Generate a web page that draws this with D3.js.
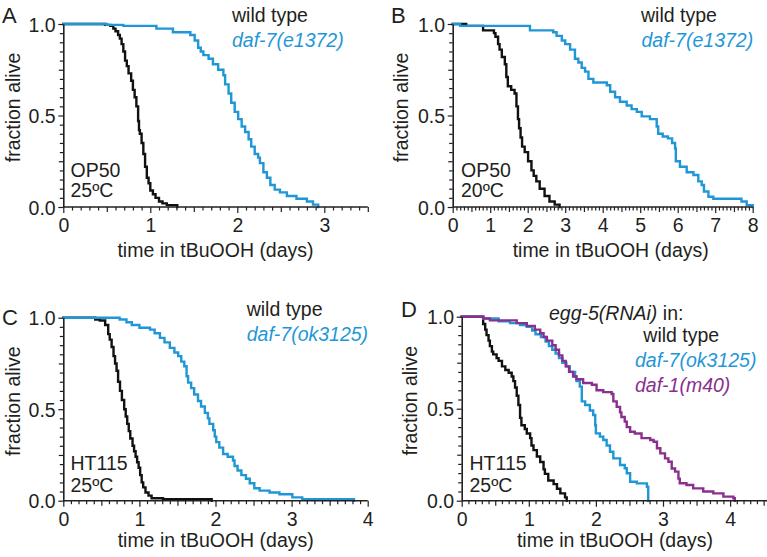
<!DOCTYPE html>
<html><head><meta charset="utf-8">
<script src="https://cdn.jsdelivr.net/npm/d3@7"></script>
<style>body{margin:0;background:#fff}svg{display:block}</style>
</head><body>
<svg id="chart" width="767" height="557"></svg>
<script>
// ---------- DATA (time in days, fraction alive) ----------
const A_wildType = [[0,1],[0.48,0.995],[0.54,0.99],[0.575,0.975],[0.6,0.96],[0.63,0.94],[0.65,0.92],[0.67,0.89],[0.69,0.85],[0.71,0.8],[0.73,0.77],[0.75,0.73],[0.78,0.69],[0.8,0.64],[0.82,0.6],[0.84,0.55],[0.86,0.47],[0.87,0.42],[0.88,0.40],[0.9,0.35],[0.92,0.29],[0.94,0.22],[0.96,0.16],[0.98,0.13],[1.0,0.09],[1.03,0.07],[1.06,0.05],[1.1,0.03],[1.14,0.02],[1.19,0.01],[1.31,0]];
const A_daf7 = [[0,1],[0.5,0.995],[0.69,0.99],[1.07,0.975],[1.26,0.955],[1.46,0.94],[1.51,0.91],[1.55,0.87],[1.58,0.85],[1.61,0.83],[1.67,0.81],[1.72,0.78],[1.78,0.75],[1.84,0.72],[1.86,0.67],[1.9,0.62],[1.93,0.57],[1.97,0.52],[2.01,0.48],[2.05,0.44],[2.09,0.41],[2.13,0.37],[2.16,0.33],[2.2,0.29],[2.24,0.27],[2.26,0.24],[2.3,0.19],[2.34,0.16],[2.38,0.12],[2.43,0.095],[2.49,0.08],[2.57,0.06],[2.68,0.045],[2.8,0.03],[2.87,0.013],[2.93,0]];
const B_wildType = [[0,1],[0.36,0.99],[0.81,0.965],[1.1,0.95],[1.14,0.93],[1.21,0.89],[1.25,0.86],[1.31,0.82],[1.39,0.78],[1.43,0.71],[1.47,0.66],[1.56,0.64],[1.65,0.62],[1.7,0.55],[1.74,0.48],[1.77,0.43],[1.81,0.38],[1.85,0.33],[1.92,0.3],[2.01,0.25],[2.1,0.2],[2.16,0.17],[2.23,0.14],[2.32,0.1],[2.45,0.06],[2.58,0.03],[2.72,0.013],[2.85,0]];
const B_daf7 = [[0,1],[0.2,0.99],[2.06,0.965],[2.68,0.955],[2.77,0.935],[2.91,0.91],[3.0,0.89],[3.13,0.86],[3.26,0.81],[3.35,0.79],[3.44,0.76],[3.53,0.74],[3.62,0.70],[3.75,0.68],[4.11,0.665],[4.2,0.63],[4.33,0.60],[4.46,0.575],[4.64,0.555],[4.77,0.535],[4.91,0.52],[5.04,0.495],[5.26,0.48],[5.44,0.44],[5.48,0.40],[5.6,0.385],[5.74,0.375],[5.85,0.35],[5.93,0.32],[5.95,0.25],[6.06,0.22],[6.24,0.19],[6.42,0.175],[6.55,0.14],[6.64,0.12],[6.7,0.085],[6.82,0.056],[6.95,0.045],[7.7,0.03],[7.84,0.01],[8.0,0]];
const C_wildType = [[0,1],[0.42,0.99],[0.48,0.985],[0.55,0.96],[0.59,0.91],[0.61,0.88],[0.635,0.84],[0.66,0.79],[0.68,0.75],[0.7,0.71],[0.72,0.65],[0.745,0.6],[0.77,0.55],[0.8,0.5],[0.82,0.46],[0.84,0.42],[0.86,0.38],[0.88,0.34],[0.91,0.3],[0.93,0.27],[0.95,0.24],[0.97,0.21],[0.99,0.18],[1.01,0.14],[1.03,0.1],[1.05,0.073],[1.08,0.045],[1.12,0.028],[1.16,0.013],[1.31,0.008],[1.95,0]];
const C_daf7 = [[0,1],[0.74,0.99],[0.83,0.975],[0.9,0.96],[1.0,0.945],[1.14,0.935],[1.2,0.915],[1.27,0.89],[1.33,0.865],[1.4,0.835],[1.46,0.81],[1.51,0.79],[1.55,0.76],[1.59,0.735],[1.62,0.68],[1.64,0.645],[1.68,0.615],[1.72,0.58],[1.77,0.545],[1.81,0.515],[1.86,0.48],[1.9,0.45],[1.92,0.42],[1.97,0.385],[1.99,0.35],[2.01,0.32],[2.05,0.29],[2.1,0.255],[2.16,0.24],[2.23,0.22],[2.25,0.19],[2.29,0.165],[2.34,0.14],[2.4,0.12],[2.45,0.095],[2.51,0.068],[2.58,0.055],[2.71,0.045],[2.84,0.035],[3.01,0.018],[3.14,0.008],[3.82,0]];
const D_wildType = [[0,1],[0.32,0.96],[0.35,0.93],[0.37,0.9],[0.4,0.87],[0.42,0.84],[0.45,0.81],[0.47,0.795],[0.52,0.775],[0.55,0.76],[0.6,0.73],[0.65,0.71],[0.7,0.695],[0.745,0.675],[0.77,0.65],[0.795,0.615],[0.82,0.57],[0.845,0.52],[0.87,0.45],[0.89,0.41],[0.94,0.39],[0.97,0.365],[1.02,0.34],[1.04,0.3],[1.07,0.275],[1.12,0.24],[1.17,0.21],[1.22,0.17],[1.24,0.146],[1.29,0.11],[1.37,0.09],[1.42,0.065],[1.47,0.04],[1.54,0.018],[1.565,0]];
const D_daf7 = [[0,1],[0.32,0.99],[0.55,0.975],[0.72,0.965],[0.87,0.955],[0.97,0.945],[1.05,0.925],[1.1,0.905],[1.18,0.89],[1.25,0.865],[1.3,0.84],[1.35,0.82],[1.4,0.8],[1.45,0.775],[1.5,0.75],[1.56,0.73],[1.61,0.7],[1.69,0.675],[1.71,0.65],[1.76,0.62],[1.79,0.54],[1.84,0.52],[1.91,0.49],[1.96,0.466],[1.99,0.41],[2.0,0.366],[2.06,0.348],[2.11,0.33],[2.16,0.3],[2.21,0.266],[2.26,0.23],[2.36,0.194],[2.43,0.176],[2.46,0.149],[2.51,0.103],[2.61,0.094],[2.76,0.076],[2.78,0]];
const D_daf1 = [[0,1],[0.32,0.99],[0.42,0.98],[0.82,0.965],[0.97,0.95],[1.09,0.93],[1.17,0.91],[1.22,0.89],[1.27,0.87],[1.35,0.845],[1.4,0.82],[1.45,0.79],[1.5,0.76],[1.55,0.73],[1.6,0.7],[1.66,0.675],[1.71,0.66],[1.81,0.64],[1.94,0.63],[2.01,0.6],[2.11,0.59],[2.235,0.58],[2.26,0.54],[2.31,0.51],[2.36,0.48],[2.38,0.455],[2.43,0.43],[2.46,0.4],[2.51,0.375],[2.58,0.365],[2.68,0.34],[2.81,0.33],[2.86,0.32],[2.91,0.285],[2.96,0.257],[3.03,0.23],[3.08,0.212],[3.13,0.175],[3.18,0.158],[3.23,0.12],[3.25,0.095],[3.35,0.085],[3.45,0.067],[3.6,0.05],[3.75,0.04],[3.9,0.022],[4.05,0.013],[4.07,0]];

const xMaxA = 3.5, xMaxB = 8, xMaxC = 4, xMaxD = 4.55;
const yTickLabels = {0: "0.0", 0.5: "0.5", 1: "1.0"};
const xAxisTitle = "time in tBuOOH (days)";
const yAxisTitle = "fraction alive";

// ---------- STYLE ----------
const FONT = "'Liberation Sans', Arial, Helvetica, sans-serif";
const FS = 19.5;
const TXT = "#231f20";
const BLACK = "#111111";
const BLUE = "#1f97d6";
const PURPLE = "#8a2f8d";

const svg = d3.select("#chart");
svg.append("rect").attr("width", 767).attr("height", 557).attr("fill", "#fff");

const panels = [
  {letter: "A", lx: 2, ly: 23, x0: 63.3, x1: 367.8, yTop: 24, yBot: 207, xMax: xMaxA,
   series: [{d: A_wildType, c: BLACK}, {d: A_daf7, c: BLUE}],
   ylabX: 20, xlabX: 215.5, xlabY: 257,
   cond: ["OP50", "25ºC"], condX: 70.5, condY: [176.7, 196.7],
   legend: [{t: "wild type", c: TXT, it: false, x: 232, y: 21.5}, {t: "daf-7(e1372)", c: BLUE, it: true, x: 232, y: 46.5}]},
  {letter: "B", lx: 391, ly: 23, x0: 452.7, x1: 752.7, yTop: 24, yBot: 207, xMax: xMaxB,
   series: [{d: B_wildType, c: BLACK}, {d: B_daf7, c: BLUE}],
   ylabX: 408, xlabX: 610.7, xlabY: 257,
   cond: ["OP50", "20ºC"], condX: 461, condY: [176.7, 196.7],
   legend: [{t: "wild type", c: TXT, it: false, x: 641, y: 21.5}, {t: "daf-7(e1372)", c: BLUE, it: true, x: 641.5, y: 46.5}]},
  {letter: "C", lx: 2, ly: 325, x0: 63.3, x1: 367.7, yTop: 317.7, yBot: 500.7, xMax: xMaxC,
   series: [{d: C_wildType, c: BLACK}, {d: C_daf7, c: BLUE}],
   ylabX: 20, xlabX: 215.7, xlabY: 547,
   cond: ["HT115", "25ºC"], condX: 70.5, condY: [470, 492]},
  {letter: "D", lx: 401, ly: 316.7, x0: 461.7, x1: 767, yTop: 316.7, yBot: 500.7, xMax: xMaxD,
   series: [{d: D_wildType, c: BLACK}, {d: D_daf7, c: BLUE}, {d: D_daf1, c: PURPLE}],
   ylabX: 417, xlabX: 615, xlabY: 547,
   cond: ["HT115", "25ºC"], condX: 469.5, condY: [470, 492]}
];
panels[2].legend = [{t: "wild type", c: TXT, it: false, x: 246.7, y: 316}, {t: "daf-7(ok3125)", c: BLUE, it: true, x: 246.7, y: 341}];
panels[3].legend = [{t: "wild type", c: TXT, it: false, x: 643.3, y: 341.7}, {t: "daf-7(ok3125)", c: BLUE, it: true, x: 635, y: 366.7}, {t: "daf-1(m40)", c: PURPLE, it: true, x: 635, y: 391.7}];

panels.forEach(p => {
  const g = svg.append("g");
  const x = d3.scaleLinear().domain([0, p.xMax]).range([p.x0, p.x1]);
  const y = d3.scaleLinear().domain([0, 1]).range([p.yBot, p.yTop]);

  // curves
  const line = d3.line().x(d => x(d[0])).y(d => y(d[1])).curve(d3.curveStepAfter);
  p.series.forEach(s => {
    g.append("path").datum(s.d).attr("d", line).attr("fill", "none")
      .attr("stroke", s.c).attr("stroke-width", 2.4).attr("stroke-linejoin", "miter").attr("stroke-linecap", "square");
  });

  // x axis
  const xt = d3.range(0, Math.floor(p.xMax * 10 + 1e-6) + 1).map(i => i / 10);
  const xa = g.append("g").attr("transform", `translate(0,${p.yBot})`)
    .call(d3.axisBottom(x).tickValues(xt).tickSizeInner(6).tickSizeOuter(0).tickPadding(5.3)
      .tickFormat(d => Math.abs(d - Math.round(d)) < 1e-6 ? d3.format("d")(Math.round(d)) : ""));
  xa.selectAll(".tick line").attr("y2", d => {
    const r = Math.round(d * 10);
    return r % 10 === 0 ? 6 : (r % 5 === 0 ? 5 : 3.5);
  }).attr("stroke", TXT).attr("stroke-width", 1.2);
  xa.select(".domain").attr("stroke", TXT).attr("stroke-width", 1.6).attr("d", `M${p.x0},0H${p.x1}`);

  // y axis
  const yt = d3.range(0, 21).map(i => i / 20);
  const ya = g.append("g").attr("transform", `translate(${p.x0},0)`)
    .call(d3.axisLeft(y).tickValues(yt).tickSizeInner(5).tickSizeOuter(0).tickPadding(2.6)
      .tickFormat(d => { const k = Math.round(d * 20); return k % 10 === 0 ? yTickLabels[k / 20] : ""; }));
  ya.selectAll(".tick line").attr("x2", d => {
    const k = Math.round(d * 20);
    return k % 10 === 0 ? -5 : (k % 5 === 0 ? -4.5 : -3.5);
  }).attr("stroke", TXT).attr("stroke-width", 1.2);
  ya.select(".domain").attr("stroke", TXT).attr("stroke-width", 1.6);

  [xa, ya].forEach(a => a.selectAll("text").attr("font-family", FONT).attr("font-size", FS).attr("fill", TXT));
  ya.selectAll("text").attr("dy", "0.36em");

  // axis titles
  g.append("text").attr("x", p.xlabX).attr("y", p.xlabY).attr("text-anchor", "middle")
    .attr("font-family", FONT).attr("font-size", FS).attr("fill", TXT).text(xAxisTitle);
  g.append("text").attr("transform", `translate(${p.ylabX},${(p.yTop + p.yBot) / 2 - 8}) rotate(-90)`)
    .attr("text-anchor", "middle").attr("font-family", FONT).attr("font-size", FS).attr("fill", TXT).text(yAxisTitle);

  // panel letter
  g.append("text").attr("x", p.lx).attr("y", p.ly).attr("font-family", FONT).attr("font-size", 22)
    .attr("fill", TXT).text(p.letter);

  // condition labels
  p.cond.forEach((t, i) => g.append("text").attr("x", p.condX).attr("y", p.condY[i])
    .attr("font-family", FONT).attr("font-size", FS).attr("fill", TXT).text(t));

  // legend
  p.legend.forEach(l => g.append("text").attr("x", l.x).attr("y", l.y)
    .attr("font-family", FONT).attr("font-size", FS).attr("fill", l.c)
    .attr("font-style", l.it ? "italic" : "normal").text(l.t));
});

// D header: "egg-5(RNAi) in:"
const hdr = svg.append("text").attr("x", 549).attr("y", 320).attr("font-family", FONT)
  .attr("font-size", FS).attr("fill", TXT);
hdr.append("tspan").attr("font-style", "italic").text("egg-5(RNAi)");
hdr.append("tspan").text(" in:");
</script>
</body></html>
